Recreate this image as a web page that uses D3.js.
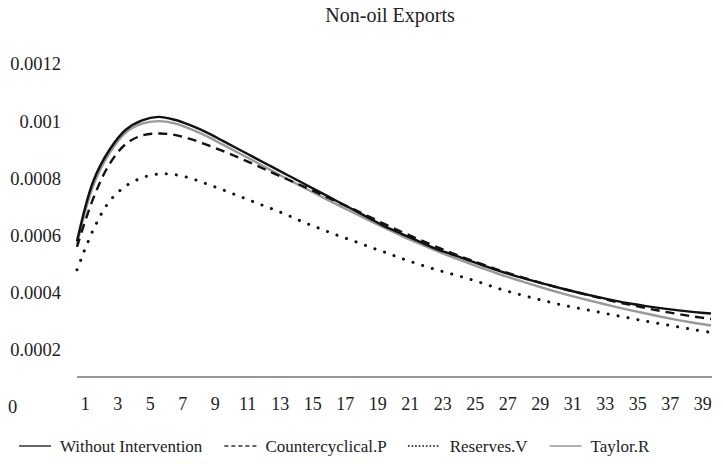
<!DOCTYPE html>
<html>
<head>
<meta charset="utf-8">
<script src="https://cdn.jsdelivr.net/npm/d3@7"></script>
<style>
  body { margin: 0; background: #fff; }
  svg text { font-family: "Liberation Serif", "Times New Roman", serif; fill: #222; }
</style>
</head>
<body>
<script>
// Chart data
var title = 'Non-oil Exports';

var periods = d3.range(1, 41);

var withoutIntervention = [
  0.00058, 0.00079, 0.0009, 0.00097, 0.001003, 0.001015, 0.001005, 0.000985, 0.00096, 0.00093,
  0.0009, 0.00087, 0.00084, 0.00081, 0.00078, 0.00075, 0.00072, 0.00069, 0.00066, 0.00063,
  0.000605, 0.00058, 0.000555, 0.000535, 0.000515, 0.000495, 0.000475, 0.000458, 0.000442, 0.000427,
  0.000412, 0.000398, 0.000385, 0.000373, 0.000362, 0.000353, 0.000345, 0.000338, 0.000332, 0.000327
];

var countercyclical = [
  0.00056, 0.00073, 0.00085, 0.00092, 0.00095, 0.000957, 0.000952, 0.000937, 0.000917, 0.000895,
  0.000871, 0.000846, 0.00082, 0.000795, 0.00077, 0.000744, 0.000718, 0.000692, 0.000665, 0.000638,
  0.000612, 0.000587, 0.000563, 0.00054, 0.000518, 0.000498, 0.000478, 0.00046, 0.000443, 0.000427,
  0.000412, 0.000398, 0.000384, 0.00037, 0.000358, 0.000346, 0.000335, 0.000325, 0.000316, 0.000308
];

var reserves = [
  0.00048, 0.00062, 0.00072, 0.000773, 0.000802, 0.000815, 0.000813, 0.0008, 0.00078, 0.000759,
  0.000737, 0.000715, 0.000693, 0.00067, 0.000645, 0.000623, 0.000601, 0.000581, 0.00056, 0.00054,
  0.000519, 0.0005, 0.000482, 0.000466, 0.00045, 0.000432, 0.000413, 0.000397, 0.000382, 0.000368,
  0.000355, 0.000344, 0.000333, 0.000322, 0.000311, 0.0003, 0.00029, 0.00028, 0.00027, 0.000261
];

var taylor = [
  0.00057, 0.000775, 0.000888, 0.00096, 0.000991, 0.001, 0.000992, 0.000972, 0.000947, 0.000917,
  0.000887, 0.000857, 0.000826, 0.000796, 0.000766, 0.000737, 0.000708, 0.00068, 0.000652, 0.000625,
  0.000598, 0.000573, 0.000549, 0.000526, 0.000505, 0.000484, 0.000464, 0.000446, 0.000428, 0.000411,
  0.000395, 0.00038, 0.000366, 0.000352, 0.000339, 0.000327, 0.000315, 0.000304, 0.000294, 0.000285
];

var seriesNames = ['Without Intervention', 'Countercyclical.P', 'Reserves.V', 'Taylor.R'];
var yTicks = [0, 0.0002, 0.0004, 0.0006, 0.0008, 0.001, 0.0012];
var xTickLabels = periods.filter(function(p) { return p % 2 === 1; });

// Styles
var styles = [
  {stroke: '#111', dash: null, width: 2.4, cap: 'butt'},
  {stroke: '#111', dash: '9,6', width: 2.4, cap: 'butt'},
  {stroke: '#111', dash: '0.1,10', width: 3, cap: 'round'},
  {stroke: '#999', dash: null, width: 2.4, cap: 'butt'}
];

var serif = '"Liberation Serif", "Times New Roman", serif';

{
  const width = 723,
        height = 464;

  const svg = d3.select('body').append('svg')
      .attr('width', width)
      .attr('height', height);

  const x = d3.scalePoint()
      .domain(periods)
      .range([77, 711]);

  const xBand = d3.scaleBand()
      .domain(periods)
      .range([77, 727]);

  const y = d3.scaleLinear()
      .domain([0, 0.0012])
      .range([407, 64]);

  // title
  svg.append('text')
      .attr('x', 390)
      .attr('y', 22)
      .attr('text-anchor', 'middle')
      .style('font-family', serif)
      .style('font-size', '20px')
      .text(title);

  // y axis labels
  const yAxis = svg.append('g')
      .attr('transform', 'translate(61,0)')
      .call(d3.axisLeft(y)
        .tickValues(yTicks)
        .tickSize(0)
        .tickPadding(0)
        .tickFormat(function(d) { return d === 0 ? '0' : String(+d.toPrecision(2)); }));
  yAxis.select('.domain').remove();
  yAxis.selectAll('text')
      .style('font-family', serif)
      .style('font-size', '18.5px')
      .attr('fill', '#222');
  // zero label sits at the left edge
  yAxis.selectAll('.tick')
      .filter(function(d) { return d === 0; })
      .select('text')
      .attr('text-anchor', 'start')
      .attr('x', -53);

  // category axis
  const axisY = 377;
  svg.append('line')
      .attr('x1', x(1))
      .attr('x2', x(40) + 1)
      .attr('y1', axisY)
      .attr('y2', axisY)
      .attr('stroke', '#333')
      .attr('stroke-width', 1.2);

  const xAxis = svg.append('g')
      .attr('transform', 'translate(0,' + axisY + ')')
      .call(d3.axisBottom(xBand)
        .tickValues(xTickLabels)
        .tickSize(0)
        .tickPadding(20));
  xAxis.select('.domain').remove();
  xAxis.selectAll('text')
      .style('font-family', serif)
      .style('font-size', '18px')
      .attr('fill', '#222');

  // series lines
  const allSeries = [withoutIntervention, countercyclical, reserves, taylor];
  const line = d3.line()
      .x(function(d, i) { return x(periods[i]); })
      .y(function(d) { return y(d); })
      .curve(d3.curveCatmullRom.alpha(0.5));

  const drawOrder = [3, 0, 1, 2];
  drawOrder.forEach(function(k) {
    const s = styles[k];
    svg.append('path')
        .datum(allSeries[k])
        .attr('fill', 'none')
        .attr('stroke', s.stroke)
        .attr('stroke-width', s.width)
        .attr('stroke-linecap', s.cap)
        .attr('stroke-dasharray', s.dash)
        .attr('d', line);
  });

  // legend
  const legend = svg.append('g')
      .attr('transform', 'translate(0,446)');
  let lx = 19;
  seriesNames.forEach(function(name, k) {
    const s = styles[k];
    legend.append('line')
        .attr('x1', lx)
        .attr('x2', lx + 32)
        .attr('y1', 0)
        .attr('y2', 0)
        .attr('stroke', k === 3 ? '#999' : '#333')
        .attr('stroke-width', k === 2 ? 1.8 : 1.5)
        .attr('stroke-linecap', s.cap)
        .attr('stroke-dasharray', k === 1 ? '4,3' : (k === 2 ? '0.1,3.5' : null));
    const t = legend.append('text')
        .attr('x', lx + 41)
        .attr('y', 0)
        .attr('dy', '0.35em')
        .style('font-family', serif)
        .style('font-size', '17px')
        .text(name);
    lx += 41 + t.node().getComputedTextLength() + 22;
  });
}
</script>
</body>
</html>
